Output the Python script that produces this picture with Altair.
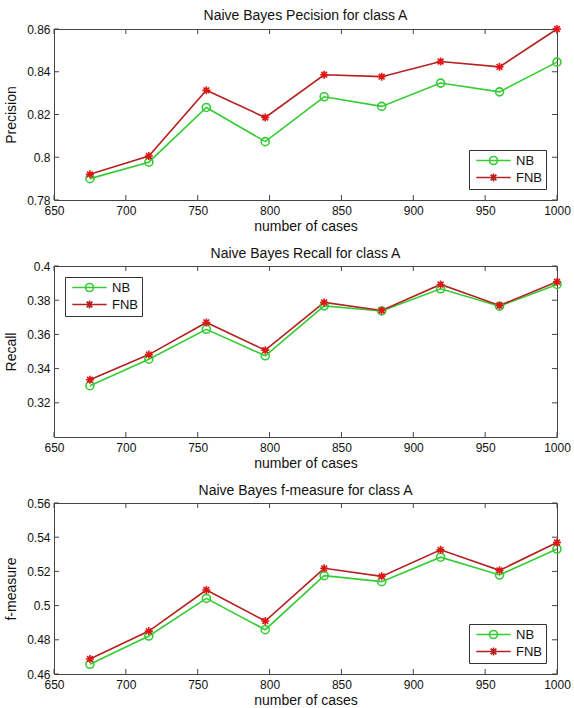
import altair as alt
import pandas as pd

cases = [675, 716, 756, 797, 838, 878, 919, 960, 1000]
series_names = ["NB", "FNB"]

precision_nb = [0.790, 0.7977, 0.8233, 0.8073, 0.8283, 0.8238, 0.8347, 0.8306, 0.8445]
precision_fnb = [0.792, 0.8006, 0.8313, 0.8186, 0.8386, 0.8377, 0.8448, 0.8423, 0.860]

recall_nb = [0.330, 0.3455, 0.363, 0.3475, 0.3767, 0.3737, 0.3867, 0.3765, 0.3892]
recall_fnb = [0.3335, 0.3482, 0.367, 0.3508, 0.3787, 0.3740, 0.3892, 0.3769, 0.3908]

fmeasure_nb = [0.4657, 0.4822, 0.5042, 0.4859, 0.5175, 0.514, 0.5283, 0.5179, 0.5331]
fmeasure_fnb = [0.4688, 0.4851, 0.5091, 0.491, 0.5218, 0.5171, 0.5326, 0.5206, 0.5369]

x_ticks = [650, 700, 750, 800, 850, 900, 950, 1000]
precision_ticks = [0.78, 0.80, 0.82, 0.84, 0.86]
recall_ticks = [0.32, 0.34, 0.36, 0.38, 0.40]
fmeasure_ticks = [0.46, 0.48, 0.50, 0.52, 0.54, 0.56]

W, H = 503, 171
FONT = "Liberation Sans"
GREEN = "#33cc33"
RED_LINE = "#b52020"
RED_MARK = "#e01515"

ASTER = "M0,-1L0,1M-1,0L1,0M-0.72,-0.72L0.72,0.72M-0.72,0.72L0.72,-0.72"
LEG_NB = "M-4.3,0L4.3,0M-1,0A1,1,0,1,0,1,0A1,1,0,1,0,-1,0"
LEG_FNB = "M-4.3,0L4.3,0M0,-1L0,1M-0.72,-0.72L0.72,0.72M-0.72,0.72L0.72,-0.72"


def make_df(nb, fnb):
    rows = []
    for c, v in zip(cases, nb):
        rows.append({"cases": c, "value": v, "series": "NB"})
    for c, v in zip(cases, fnb):
        rows.append({"cases": c, "value": v, "series": "FNB"})
    return pd.DataFrame(rows)


def panel(nb, fnb, title, ytitle, ydomain, yticks, legend_orient):
    df = make_df(nb, fnb)
    xs = alt.Scale(domain=[650, 1000], nice=False, zero=False)
    ys = alt.Scale(domain=ydomain, nice=False, zero=False)
    xaxis = alt.Axis(values=x_ticks, format="d", title="number of cases",
                     labelPadding=5, titlePadding=3, labelOverlap=False, labelFlush=False)
    yaxis = alt.Axis(values=yticks, format=".2~f", title=ytitle,
                     labelPadding=4, titlePadding=8, labelOverlap=False, labelFlush=False)

    def X(f):
        return alt.X(f, scale=xs, axis=xaxis)

    def Y(f):
        return alt.Y(f, scale=ys, axis=yaxis)

    base = alt.Chart(df)
    line = base.mark_line(strokeWidth=1.6).encode(
        x=X("cases:Q"), y=Y("value:Q"),
        color=alt.Color("series:N", scale=alt.Scale(domain=series_names, range=[GREEN, RED_LINE]), legend=None),
        detail="series:N",
    )
    pts = base.mark_point(filled=False, size=64, strokeWidth=1.6, opacity=1).encode(
        x=X("cases:Q"), y=Y("value:Q"),
        color=alt.Color("series:N", scale=alt.Scale(domain=series_names, range=[GREEN, RED_MARK]), legend=None),
        shape=alt.Shape("series:N", scale=alt.Scale(domain=series_names, range=["circle", ASTER]), legend=None),
    )
    leg = base.mark_point(filled=False, opacity=1).encode(
        x=X("cases:Q"), y=Y("value:Q"),
        color=alt.Color("series:N", scale=alt.Scale(domain=series_names, range=[GREEN, RED_LINE]),
                        legend=alt.Legend(orient=legend_orient, offset=11, title=None,
                                          strokeColor="#333", fillColor="white", padding=4,
                                          labelFont=FONT, labelFontSize=13, labelColor="#111",
                                          symbolSize=64, symbolOffset=14, labelOffset=16,
                                          symbolStrokeWidth=1.6, rowPadding=2)),
        shape=alt.Shape("series:N", scale=alt.Scale(domain=series_names, range=[LEG_NB, LEG_FNB])),
    ).transform_filter("false")

    xt = pd.DataFrame({"cases": x_ticks})
    yt = pd.DataFrame({"value": yticks})
    xbot = alt.Chart(xt).mark_rule(color="#444", strokeWidth=1).encode(
        x=X("cases:Q"), y=alt.value(H), y2=alt.value(H - 5))
    xtop = alt.Chart(xt).mark_rule(color="#444", strokeWidth=1).encode(
        x=X("cases:Q"), y=alt.value(0), y2=alt.value(5))
    yleft = alt.Chart(yt).mark_rule(color="#444", strokeWidth=1).encode(
        y=Y("value:Q"), x=alt.value(0), x2=alt.value(5))
    yright = alt.Chart(yt).mark_rule(color="#444", strokeWidth=1).encode(
        y=Y("value:Q"), x=alt.value(W), x2=alt.value(W - 5))

    return alt.layer(line, xbot, xtop, yleft, yright, pts, leg).resolve_scale(
        color="independent", shape="independent"
    ).properties(
        width=W, height=H,
        title=alt.TitleParams(title, font=FONT, fontSize=14, fontWeight="normal",
                              color="#111", offset=-1, anchor="middle"),
    )


p1 = panel(precision_nb, precision_fnb, "Naive Bayes Pecision for class A", "Precision",
           [0.78, 0.86], precision_ticks, "bottom-right")
p2 = panel(recall_nb, recall_fnb, "Naive Bayes Recall for class A", "Recall",
           [0.30, 0.40], recall_ticks, "top-left")
p3 = panel(fmeasure_nb, fmeasure_fnb, "Naive Bayes f-measure for class A", "f-measure",
           [0.46, 0.56], fmeasure_ticks, "bottom-right")

chart = alt.vconcat(p1, p2, p3, spacing=12).resolve_scale(
    color="independent", shape="independent"
).resolve_legend(
    color="independent", shape="independent"
).properties(
    padding={"left": 4, "top": 8, "right": 0, "bottom": 0},
    background="white",
).configure_view(
    stroke="#444", strokeWidth=1
).configure_axis(
    domain=False, ticks=False, grid=False,
    labelFont=FONT, labelFontSize=12, labelColor="#111",
    titleFont=FONT, titleFontSize=14, titleFontWeight="normal", titleColor="#111",
)

chart.save("out.html", embed_options={"renderer": "svg", "actions": False})
